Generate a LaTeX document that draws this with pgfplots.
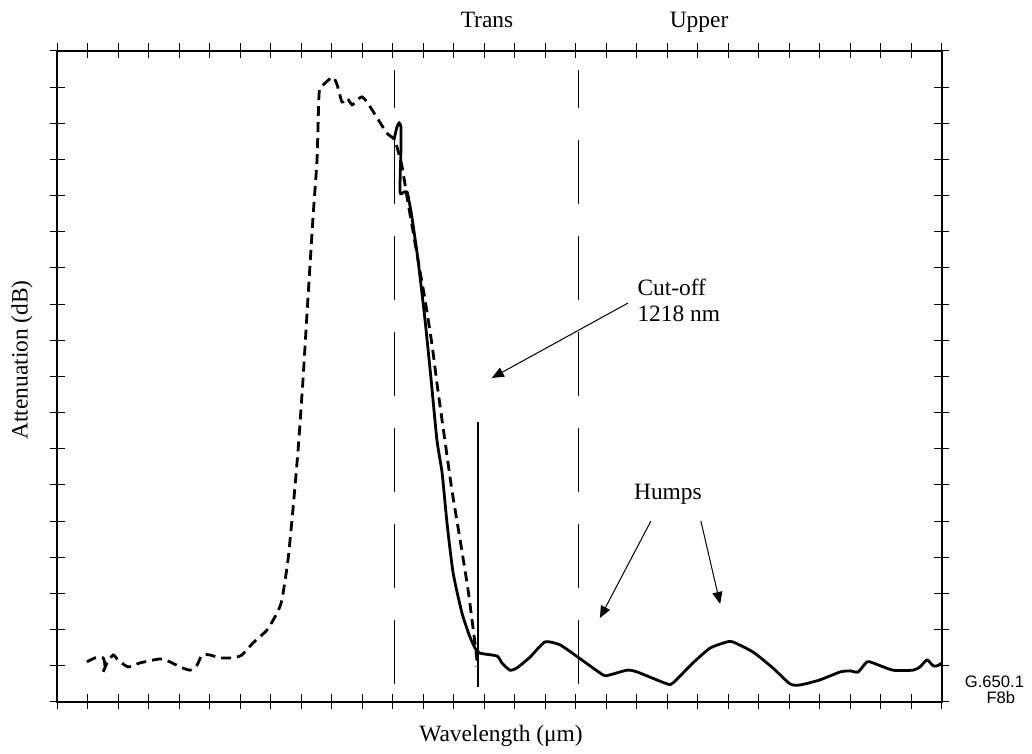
\documentclass[border=0pt]{standalone}
\usepackage{pgfplots}
\pgfplotsset{compat=1.18}
\usepackage{fontspec}
\setmainfont{Liberation Serif}
\newfontfamily\arialfont{Liberation Sans}
\usetikzlibrary{arrows.meta}
\begin{document}
\begin{tikzpicture}
\begin{axis}[
  scale only axis, width=442.5pt, height=325.5pt,
  xmin=0, xmax=29, ymin=0, ymax=18,
  xtick={0,...,29}, ytick={0,...,18},
  xticklabel=\empty, yticklabel=\empty,
  tick align=center, xtick pos=both, ytick pos=both,
  major tick length=7.5pt,
  every tick/.style={black, line width=0.5pt},
  axis line style={line width=0.6pt},
  clip=false,
  font=\fontsize{11.7}{14}\selectfont,
]
% bounding box
\path (axis cs:-1.868,-1.438) rectangle (axis cs:31.95,19.41);
% dashed curve
\addplot[black, line width=1.4pt, dash pattern=on 5pt off 3pt, smooth, tension=0.35] coordinates {
(0.98,1.11) (1.25,1.22) (1.51,1.22) (1.57,1.02) (1.51,0.83) (1.64,1.08) (1.84,1.30)
(2.00,1.16) (2.33,0.97) (2.72,1.08) (3.38,1.19) (3.70,1.11) (4.03,0.97) (4.36,0.88)
(4.59,1.02) (4.75,1.30) (5.01,1.30) (5.34,1.22) (5.77,1.22) (6.06,1.30) (6.42,1.63)
(6.88,1.99) (7.21,2.46) (7.37,2.82) (7.57,3.93) (7.73,5.31) (7.90,6.97) (8.06,8.90)
(8.22,11.12) (8.39,13.41) (8.52,14.99) (8.59,16.84) (8.72,17.06) (9.04,17.28) (9.18,17.06)
(9.34,16.59) (9.50,16.70) (9.67,16.51) (9.83,16.64) (9.99,16.73) (10.16,16.59) (10.49,16.15)
(10.81,15.73) (11.04,15.57) (11.14,15.35) (11.31,14.79) (11.47,13.96) (11.63,13.19)
(11.83,12.22) (12.06,11.12) (12.29,9.87) (12.48,8.63) (12.71,7.24) (12.94,5.86)
(13.21,4.48) (13.47,3.10) (13.63,2.07) (13.76,1.16) (13.73,0.97)
};
% solid curve
\addplot[black, line width=1.4pt, smooth, tension=0.35] coordinates {
(11.04,15.54) (11.14,15.90) (11.21,16.01) (11.27,15.90) (11.27,15.26) (11.24,14.10)
(11.37,14.10) (11.47,14.10) (11.53,13.88) (11.63,13.41) (11.83,12.22) (12.06,10.56)
(12.26,8.90) (12.45,7.24) (12.62,6.33) (12.78,4.95) (12.98,3.57) (13.27,2.46)
(13.53,1.80) (13.70,1.49) (13.86,1.35) (14.42,1.27) (14.58,1.08) (14.84,0.88)
(15.07,0.94) (15.50,1.24) (15.99,1.66) (16.48,1.58) (17.07,1.24) (17.89,0.75)
(18.12,0.75) (18.68,0.88) (19.01,0.83) (19.99,0.50) (20.19,0.53) (20.84,1.08)
(21.40,1.49) (21.95,1.66) (22.15,1.66) (22.81,1.38) (23.46,0.94) (24.02,0.50)
(24.35,0.47) (25.00,0.61) (25.66,0.83) (25.99,0.86) (26.25,0.83) (26.54,1.11)
(26.74,1.08) (27.39,0.88) (28.05,0.88) (28.28,0.97) (28.51,1.16) (28.71,1.00)
(28.84,1.00) (29.00,1.08)
};
% cut-off line
\addplot[black, line width=1.1pt] coordinates {(13.80,0.41) (13.80,7.74)};
% Trans and Upper boundaries
\addplot[black, line width=0.5pt, dash pattern=on 32pt off 16pt] coordinates {(11.05,0.5) (11.05,17.47)};
\addplot[black, line width=0.5pt, dash pattern=on 32pt off 16pt] coordinates {(17.08,0.5) (17.08,17.47)};
% texts
\node[anchor=base] at (axis cs:14.09,18.64) {Trans};
\node[anchor=base] at (axis cs:21.04,18.64) {Upper};
\node[anchor=base west, inner sep=0pt] at (axis cs:19.01,11.25) {Cut-off};
\node[anchor=base west, inner sep=0pt] at (axis cs:19.01,10.51) {1218 nm};
\node[anchor=base] at (axis cs:20.02,5.61) {Humps};
\node[anchor=base] at (axis cs:14.55,-1.08) {Wavelength (μm)};
\node[rotate=90] at (axis cs:-1.15,9.46) {Attenuation (dB)};
\node[anchor=base, inner sep=0pt, font=\arialfont\fontsize{8.3}{9}\selectfont] at (axis cs:30.72,0.39) {G.650.1};
\node[anchor=base, inner sep=0pt, font=\arialfont\fontsize{8.3}{9}\selectfont] at (axis cs:30.93,-0.03) {F8b};
% arrows
\draw[line width=0.5pt, -{Triangle[length=6pt,width=5pt]}] (axis cs:18.71,11.03) -- (axis cs:14.25,8.96);
\draw[line width=0.5pt, -{Triangle[length=6pt,width=5pt]}] (axis cs:19.46,5.00) -- (axis cs:17.79,2.32);
\draw[line width=0.5pt, -{Triangle[length=6pt,width=5pt]}] (axis cs:21.10,5.00) -- (axis cs:21.73,2.71);
\end{axis}
\end{tikzpicture}
\end{document}
